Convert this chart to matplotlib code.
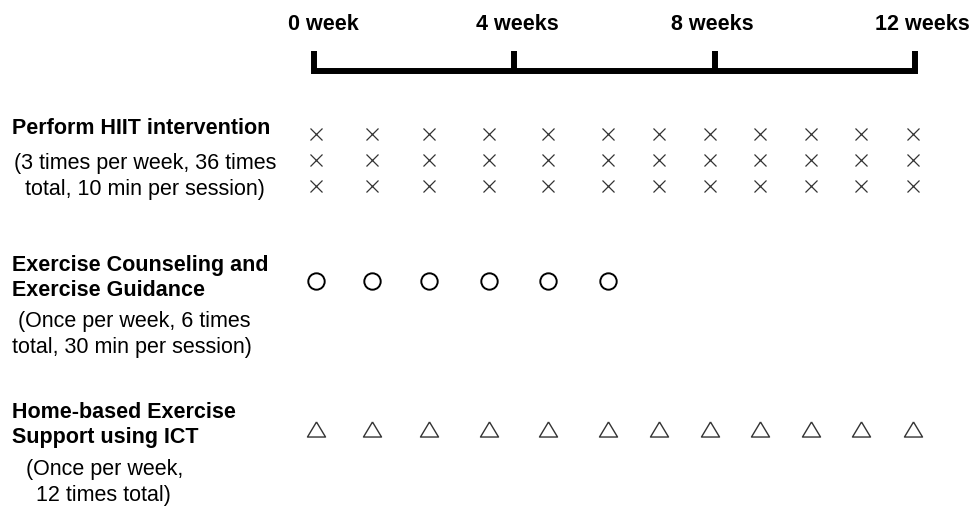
import matplotlib
matplotlib.use("Agg")
import matplotlib.pyplot as plt

plt.rcParams['font.family'] = ['Liberation Sans', 'DejaVu Sans']

# timeline
week_ticks = [0, 4, 8, 12]
week_labels = ['0 week', '4 weeks', '8 weeks', '12 weeks']

# session columns (in weeks)
session_weeks = [0.04, 1.15, 2.29, 3.5, 4.68, 5.88, 6.88, 7.9, 8.9, 9.92, 10.92, 11.96]
hiit_sessions = session_weeks            # 3 per week -> 3 rows
counsel_sessions = session_weeks[:6]     # once per week, 6 times
ict_sessions = session_weeks             # once per week, 12 times

hiit_title = 'Perform HIIT intervention'
hiit_note = ['(3 times per week, 36 times', 'total, 10 min per session)']
counsel_title = ['Exercise Counseling and', 'Exercise Guidance']
counsel_note = [' (Once per week, 6 times', 'total, 30 min per session)']
ict_title = ['Home-based Exercise', 'Support using ICT']
ict_note = ['(Once per week,', '12 times total)']

# pixel -> week helper for the layout
PX0, PXW = 314, 50.08
def wk(px):
    return (px - PX0) / PXW

fig = plt.figure(figsize=(9.76, 5.13), dpi=100)
ax = fig.add_axes([0, 0, 1, 1])
ax.set_xlim(wk(0), wk(976))
ax.set_ylim(513, 0)
ax.axis('off')

# bracket timeline
ax.plot([week_ticks[0], week_ticks[-1]], [71, 71], color='black', lw=4.3,
        solid_capstyle='projecting')
for t in week_ticks:
    ax.plot([t, t], [51, 71], color='black', lw=4.3, solid_capstyle='butt')
label_shift = [0.18, 0.07, -0.04, 0.14]
for t, lab, s in zip(week_ticks, week_labels, label_shift):
    ax.text(t + s, 24, lab, ha='center', va='center', fontsize=15.5, fontweight='bold')

# markers
for y in [134, 160, 186]:
    ax.plot(hiit_sessions, [y] * len(hiit_sessions), ls='none', marker='x',
            ms=8.6, mew=0.9, color='#333333')
ax.plot(counsel_sessions, [281] * len(counsel_sessions), ls='none', marker='o',
        ms=11.8, mew=1.4, mfc='none', color='black')
tri = [(0, 7.5), (-9, -7.5), (9, -7.5), (0, 7.5)]
ax.plot(ict_sessions, [429] * len(ict_sessions), ls='none', marker=tri,
        ms=13, mew=1.0, mfc='none', color='#333333')

# left-hand labels
fs = 15.5
ax.text(wk(12), 128, hiit_title, ha='left', va='center', fontsize=fs, fontweight='bold')
for y, line in zip([163, 189], hiit_note):
    ax.text(wk(145), y, line, ha='center', va='center', fontsize=fs)

for y, line in zip([266, 290], counsel_title):
    ax.text(wk(12), y, line, ha='left', va='center', fontsize=fs, fontweight='bold')
for y, line in zip([322, 347], counsel_note):
    ax.text(wk(12), y, line, ha='left', va='center', fontsize=fs)

for y, line in zip([413, 437], ict_title):
    ax.text(wk(12), y, line, ha='left', va='center', fontsize=fs, fontweight='bold')
for y, x, line in zip([470, 496], [26, 36], ict_note):
    ax.text(wk(x), y, line, ha='left', va='center', fontsize=fs)

fig.savefig('out.png', dpi=100)
